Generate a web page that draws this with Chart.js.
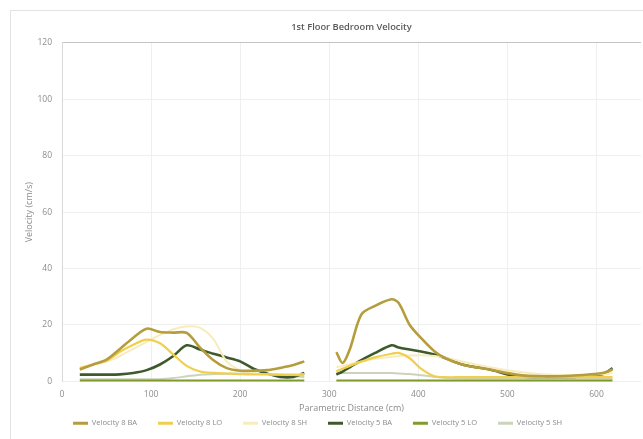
<!DOCTYPE html>
<html>
<head>
<meta charset="utf-8">
<script src="https://cdn.jsdelivr.net/npm/chart.js@4.4.1/dist/chart.umd.min.js"></script>
<style>
  html, body { margin: 0; padding: 0; background: #fff; }
  #wrap { position: relative; width: 643px; height: 439px; }
</style>
</head>
<body>
<div id="wrap"><canvas id="velocityChart" width="643" height="439"></canvas></div>
<script>
// distance along the path (cm); the null entry at 290 splits the two runs
const distances = [20, 35, 50, 65, 80, 95, 110, 125, 140, 155, 170, 185, 200, 215, 230, 245, 260, 272,
  290,
  308, 315, 323, 336, 351, 370, 378, 390, 403, 418, 430, 450, 480, 510, 540, 575, 607, 618];

const vel8BA = [4.2, 6, 7.7, 11.5, 15.5, 18.7, 17.5, 17.3, 17.2, 12, 7.5, 4.7, 3.8, 3.8, 4, 4.8, 5.8, 7.1,
  null,
  10.4, 6.5, 11.3, 23.7, 26.7, 29.1, 27.8, 20.2, 15.4, 10.7, 8.3, 5.9, 4.2, 2.4, 1.8, 2.1, 3, 4.2];
const vel8LO = [4.7, 6, 7.3, 10.5, 13, 14.8, 13.5, 9.5, 5.5, 3.5, 3, 2.8, 2.6, 2.5, 2.5, 2.4, 2.3, 2.2,
  null,
  3.6, 4.5, 5.5, 7, 8.5, 9.8, 10.1, 8.3, 4.5, 1.8, 1.5, 1.5, 1.5, 1.5, 1.5, 1.5, 1.5, 1.5];
const vel8SH = [5, 6, 7, 9, 11.5, 14, 16.5, 18.5, 19.5, 19, 15, 7, 4, 3, 2.5, 2.5, 2.5, 2.5,
  null,
  5, 5.5, 6, 7, 8, 8.7, 9, 9.2, 9.3, 9, 8.5, 7, 5, 3.5, 2.5, 2.3, 2.5, 3];
const vel5BA = [2.4, 2.4, 2.4, 2.5, 3, 4, 6, 9, 12.8, 11.3, 9.8, 8.5, 7.1, 4.5, 2.8, 1.6, 1.6, 3,
  null,
  2.4, 3.5, 5, 7.5, 10, 12.8, 12, 11.3, 10.6, 9.5, 8.3, 5.9, 4.2, 1.8, 1.6, 1.6, 2.5, 4.7];
const vel5LO = [0.2, 0.2, 0.2, 0.2, 0.2, 0.2, 0.2, 0.2, 0.2, 0.2, 0.2, 0.2, 0.2, 0.2, 0.2, 0.2, 0.2, 0.2,
  null,
  0.2, 0.2, 0.2, 0.2, 0.2, 0.2, 0.2, 0.2, 0.2, 0.2, 0.2, 0.2, 0.2, 0.2, 0.2, 0.2, 0.2, 0.2];
const vel5SH = [0.8, 0.8, 0.8, 0.8, 0.8, 0.8, 0.8, 1.2, 1.8, 2.4, 2.6, 2.7, 2.7, 2.6, 2.6, 2.3, 2, 1.5,
  null,
  3, 3, 3, 3, 3, 3, 2.8, 2.6, 2.2, 1.6, 1.2, 1, 1, 1, 1, 1, 1, 1];

const xTicks = [0, 100, 200, 300, 400, 500, 600];
const yTicks = [0, 20, 40, 60, 80, 100, 120];

const series = [
  { label: "Velocity 8 BA", values: vel8BA, color: "#b59d3d", width: 2.6 },
  { label: "Velocity 8 LO", values: vel8LO, color: "#f0cf4e", width: 2.2 },
  { label: "Velocity 8 SH", values: vel8SH, color: "#f8ecbc", width: 2 },
  { label: "Velocity 5 BA", values: vel5BA, color: "#3e5a2c", width: 2.6 },
  { label: "Velocity 5 LO", values: vel5LO, color: "#7f9b2c", width: 2.6 },
  { label: "Velocity 5 SH", values: vel5SH, color: "#ccd3bc", width: 2 },
];

const grey = "#8c8c8c";
const font = "'Open Sans', 'Liberation Sans', sans-serif";

// light frame around the whole chart
const chartFrame = {
  id: "chartFrame",
  beforeDraw(chart) {
    const c = chart.ctx;
    c.save();
    c.fillStyle = "#fff";
    c.fillRect(0, 0, chart.width, chart.height);
    c.strokeStyle = "#e3e3e3";
    c.lineWidth = 1;
    c.strokeRect(10.5, 10.5, 700, 500);
    c.restore();
  },
};

new Chart(document.getElementById("velocityChart"), {
  type: "line",
  data: {
    datasets: series.map((s) => ({
      label: s.label,
      data: distances.map((d, i) => ({ x: d, y: s.values[i] })),
      borderColor: s.color,
      backgroundColor: s.color,
      borderWidth: s.width,
      pointRadius: 0,
      tension: 0.3,
      spanGaps: false,
    })),
  },
  options: {
    responsive: false,
    animation: false,
    layout: { padding: { left: 10, right: 2, top: 10, bottom: 2 } },
    plugins: {
      title: {
        display: true,
        fullSize: false,
        text: "1st Floor Bedroom Velocity",
        color: "#595959",
        font: { family: font, size: 9.3, weight: "600" },
        padding: { top: 12, bottom: 9.8 },
      },
      legend: {
        position: "bottom",
        labels: {
          color: grey,
          font: { family: font, size: 7.6 },
          boxWidth: 15,
          boxHeight: 3,
          padding: 5,
          // wider gaps between entries than the default spacing
          generateLabels: (chart) => {
            const items = Chart.defaults.plugins.legend.labels.generateLabels(chart);
            items.forEach((it) => {
              it.lineWidth = 0;
              it.text += "        ";
            });
            return items;
          },
        },
      },
      tooltip: { enabled: false },
    },
    scales: {
      x: {
        type: "linear",
        min: 0,
        max: 650,
        afterBuildTicks: (scale) => {
          scale.ticks = xTicks.map((v) => ({ value: v }));
        },
        afterFit: (scale) => {
          scale.height = 33;
        },
        ticks: { color: grey, font: { family: font, size: 8.5 }, padding: 8 },
        grid: { color: "#efefef", drawTicks: false },
        border: { display: false },
        title: {
          display: true,
          text: "Parametric Distance (cm)",
          color: grey,
          font: { family: font, size: 9 },
          padding: { top: 2, bottom: 1 },
        },
      },
      y: {
        min: 0,
        max: 120,
        afterBuildTicks: (scale) => {
          scale.ticks = yTicks.map((v) => ({ value: v }));
        },
        afterFit: (scale) => {
          scale.width = 52;
        },
        ticks: { color: grey, font: { family: font, size: 8.5 }, padding: 10 },
        grid: {
          color: (ctx) => (ctx.tick && ctx.tick.value === 120 ? "#c4c4c4" : "#efefef"),
          drawTicks: false,
        },
        border: { display: true, color: "#d9d9d9" },
        title: {
          display: true,
          text: "Velocity (cm/s)",
          color: grey,
          font: { family: font, size: 9 },
          padding: { top: 14, bottom: 2 },
        },
      },
    },
  },
  plugins: [chartFrame],
});
</script>
</body>
</html>
